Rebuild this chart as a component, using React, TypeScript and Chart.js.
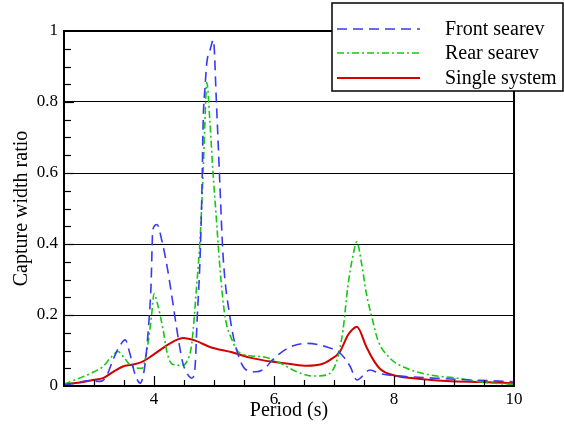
import { useEffect, useRef } from "react";
import { Chart, registerables } from "chart.js";

Chart.register(...registerables);

// ---- Data ----
const frontPeriod = [2.5, 2.7, 2.9, 3.1, 3.2, 3.32, 3.42, 3.52, 3.6, 3.68, 3.77, 3.85, 3.91, 3.95, 3.98, 4.05, 4.13, 4.22, 4.3, 4.38, 4.48, 4.58, 4.63, 4.68, 4.72, 4.77, 4.8, 4.82, 4.85, 4.88, 4.94, 4.99, 5.04, 5.1, 5.15, 5.27, 5.38, 5.54, 5.7, 5.85, 5.97, 6.27, 6.55, 6.88, 7.1, 7.27, 7.38, 7.6, 7.77, 8.1, 8.7, 9.3, 10];
const frontRatio = [0.003, 0.008, 0.015, 0.013, 0.025, 0.075, 0.11, 0.13, 0.09, 0.035, 0.008, 0.06, 0.17, 0.28, 0.44, 0.455, 0.41, 0.335, 0.25, 0.16, 0.065, 0.028, 0.022, 0.045, 0.19, 0.37, 0.56, 0.75, 0.84, 0.91, 0.95, 0.975, 0.8, 0.56, 0.37, 0.19, 0.1, 0.045, 0.04, 0.05, 0.073, 0.11, 0.12, 0.11, 0.093, 0.055, 0.017, 0.045, 0.035, 0.028, 0.022, 0.017, 0.012];

const rearPeriod = [2.5, 2.65, 2.8, 3.0, 3.15, 3.28, 3.4, 3.5, 3.63, 3.8, 3.9, 3.96, 4.0, 4.06, 4.15, 4.22, 4.3, 4.47, 4.55, 4.63, 4.71, 4.77, 4.82, 4.85, 4.88, 4.93, 4.98, 5.04, 5.1, 5.18, 5.3, 5.43, 5.82, 6.1, 6.38, 6.65, 6.88, 6.98, 7.05, 7.15, 7.23, 7.32, 7.38, 7.46, 7.54, 7.63, 7.73, 7.93, 8.21, 8.6, 9.05, 9.43, 9.82, 10];
const rearRatio = [0.005, 0.015, 0.025, 0.04, 0.055, 0.08, 0.097, 0.08, 0.055, 0.05, 0.12, 0.2, 0.26, 0.23, 0.16, 0.093, 0.062, 0.058, 0.07, 0.12, 0.28, 0.42, 0.61, 0.75, 0.855, 0.75, 0.61, 0.47, 0.33, 0.2, 0.13, 0.093, 0.082, 0.065, 0.04, 0.028, 0.031, 0.045, 0.073, 0.157, 0.28, 0.37, 0.406, 0.345, 0.26, 0.195, 0.13, 0.079, 0.05, 0.031, 0.022, 0.012, 0.006, 0.005];

const singlePeriod = [2.5, 2.77, 2.98, 3.15, 3.32, 3.48, 3.63, 3.8, 3.98, 4.22, 4.38, 4.48, 4.7, 4.93, 5.3, 5.6, 5.98, 6.27, 6.55, 6.8, 6.93, 7.1, 7.23, 7.3, 7.38, 7.54, 7.65, 7.77, 7.98, 8.32, 8.88, 9.43, 10];
const singleRatio = [0.005, 0.01, 0.017, 0.022, 0.04, 0.055, 0.06, 0.068, 0.087, 0.115, 0.13, 0.135, 0.127, 0.11, 0.095, 0.08, 0.068, 0.062, 0.057, 0.062, 0.073, 0.097, 0.143, 0.158, 0.167, 0.11, 0.075, 0.048, 0.031, 0.022, 0.014, 0.011, 0.008];

const seriesLabels = ["Front searev", "Rear searev", "Single system"];
const xTickLabels = [4, 6, 8, 10];
const yTickLabels = [0, 0.2, 0.4, 0.6, 0.8, 1];

const FONT = "'Liberation Serif', 'Times New Roman', serif";
const BLUE = "#3a3af2";
const GREEN = "#14c814";
const RED = "#d40000";
const DASHES = [[10, 6], [7, 3, 2, 3], []];
const COLORS = [BLUE, GREEN, RED];
const WIDTHS = [1.6, 1.6, 2];

const toPoints = (xs: number[], ys: number[]) => xs.map((x, i) => ({ x, y: ys[i] }));

export default function App() {
  const ref = useRef<HTMLCanvasElement>(null);

  useEffect(() => {
    const canvas = ref.current;
    if (!canvas) return;

    const framePlugin = {
      id: "frameAndLegend",
      afterDatasetsDraw(chart: any) {
        const { ctx, chartArea } = chart;
        const xs = chart.scales.x;
        const ys = chart.scales.y;
        ctx.save();
        ctx.strokeStyle = "#000";
        ctx.setLineDash([]);
        // minor / major ticks pointing inward
        ctx.lineWidth = 1.2;
        for (let i = 1; i < 20; i++) {
          const v = i * 0.05;
          const py = Math.round(ys.getPixelForValue(v)) + 0.5;
          const len = i % 4 === 0 ? 10 : 7;
          ctx.beginPath();
          ctx.moveTo(chartArea.left, py);
          ctx.lineTo(chartArea.left + len, py);
          ctx.stroke();
        }
        for (let i = 1; i < 15; i++) {
          const v = 2.5 + i * 0.5;
          const px = Math.round(xs.getPixelForValue(v)) + 0.5;
          const len = xTickLabels.includes(v) ? 10 : 6;
          ctx.beginPath();
          ctx.moveTo(px, chartArea.bottom);
          ctx.lineTo(px, chartArea.bottom - len);
          ctx.stroke();
        }
        // frame
        ctx.lineWidth = 2;
        ctx.strokeRect(chartArea.left, chartArea.top, chartArea.right - chartArea.left, chartArea.bottom - chartArea.top);
        ctx.restore();
      },
      afterDraw(chart: any) {
        const { ctx } = chart;
        ctx.save();
        const bx = 332, by = 3, bw = 231, bh = 88;
        ctx.fillStyle = "#fff";
        ctx.fillRect(bx, by, bw, bh);
        ctx.strokeStyle = "#000";
        ctx.lineWidth = 1.5;
        ctx.setLineDash([]);
        ctx.strokeRect(bx, by, bw, bh);
        const rows = [29, 53, 78];
        chart.data.datasets.forEach((ds: any, i: number) => {
          ctx.strokeStyle = ds.borderColor;
          ctx.lineWidth = ds.borderWidth;
          ctx.setLineDash(ds.borderDash || []);
          ctx.beginPath();
          ctx.moveTo(337, rows[i]);
          ctx.lineTo(420, rows[i]);
          ctx.stroke();
          ctx.setLineDash([]);
          ctx.fillStyle = "#000";
          ctx.font = `20px ${FONT}`;
          ctx.textBaseline = "middle";
          ctx.textAlign = "left";
          ctx.fillText(ds.label, 445, rows[i] + 1);
        });
        ctx.restore();
      },
    };

    const seriesX = [frontPeriod, rearPeriod, singlePeriod];
    const seriesY = [frontRatio, rearRatio, singleRatio];

    const chart = new Chart(canvas, {
      type: "line",
      data: {
        datasets: seriesLabels.map((label, i) => ({
          label,
          data: toPoints(seriesX[i], seriesY[i]),
          borderColor: COLORS[i],
          backgroundColor: COLORS[i],
          borderWidth: WIDTHS[i],
          borderDash: DASHES[i],
          pointRadius: 0,
          fill: false,
          cubicInterpolationMode: "monotone" as const,
        })),
      },
      options: {
        animation: false,
        responsive: false,
        events: [],
        layout: { padding: { top: 31, right: 50, left: 0, bottom: 0 } },
        plugins: {
          legend: { display: false },
          tooltip: { enabled: false },
        },
        scales: {
          x: {
            type: "linear",
            min: 2.5,
            max: 10,
            afterFit: (s: any) => {
              s.height = 39;
            },
            afterBuildTicks: (s: any) => {
              s.ticks = xTickLabels.map((v) => ({ value: v }));
            },
            ticks: {
              color: "#000",
              font: { family: FONT, size: 17 },
              padding: 3,
              maxRotation: 0,
              autoSkip: false,
              callback: (v: any) => String(v),
            },
            grid: { display: false, drawTicks: false },
            border: { display: false },
            title: {
              display: true,
              text: "Period (s)",
              color: "#000",
              font: { family: FONT, size: 20 },
              padding: { top: 0, bottom: 2 },
            },
          },
          y: {
            min: 0,
            max: 1,
            afterFit: (s: any) => {
              s.width = 64;
            },
            afterBuildTicks: (s: any) => {
              s.ticks = yTickLabels.map((v) => ({ value: v }));
            },
            ticks: {
              color: "#000",
              font: { family: FONT, size: 17 },
              padding: 6,
              callback: (v: any) => String(Math.round(Number(v) * 10) / 10),
            },
            grid: {
              drawTicks: false,
              lineWidth: 1,
              color: (c: any) => {
                const v = c.tick ? c.tick.value : 0;
                return v > 0.001 && v < 0.999 ? "#000" : "rgba(0,0,0,0)";
              },
            },
            border: { display: false },
            title: {
              display: true,
              text: "Capture width ratio",
              color: "#000",
              font: { family: FONT, size: 20 },
              padding: { top: 10, bottom: 0 },
            },
          },
        },
      },
      plugins: [framePlugin],
    });

    return () => chart.destroy();
  }, []);

  return (
    <div style={{ position: "fixed", left: 0, top: 0, width: 564, height: 425, background: "#fff" }}>
      <canvas ref={ref} width={564} height={425} style={{ display: "block" }} />
    </div>
  );
}
